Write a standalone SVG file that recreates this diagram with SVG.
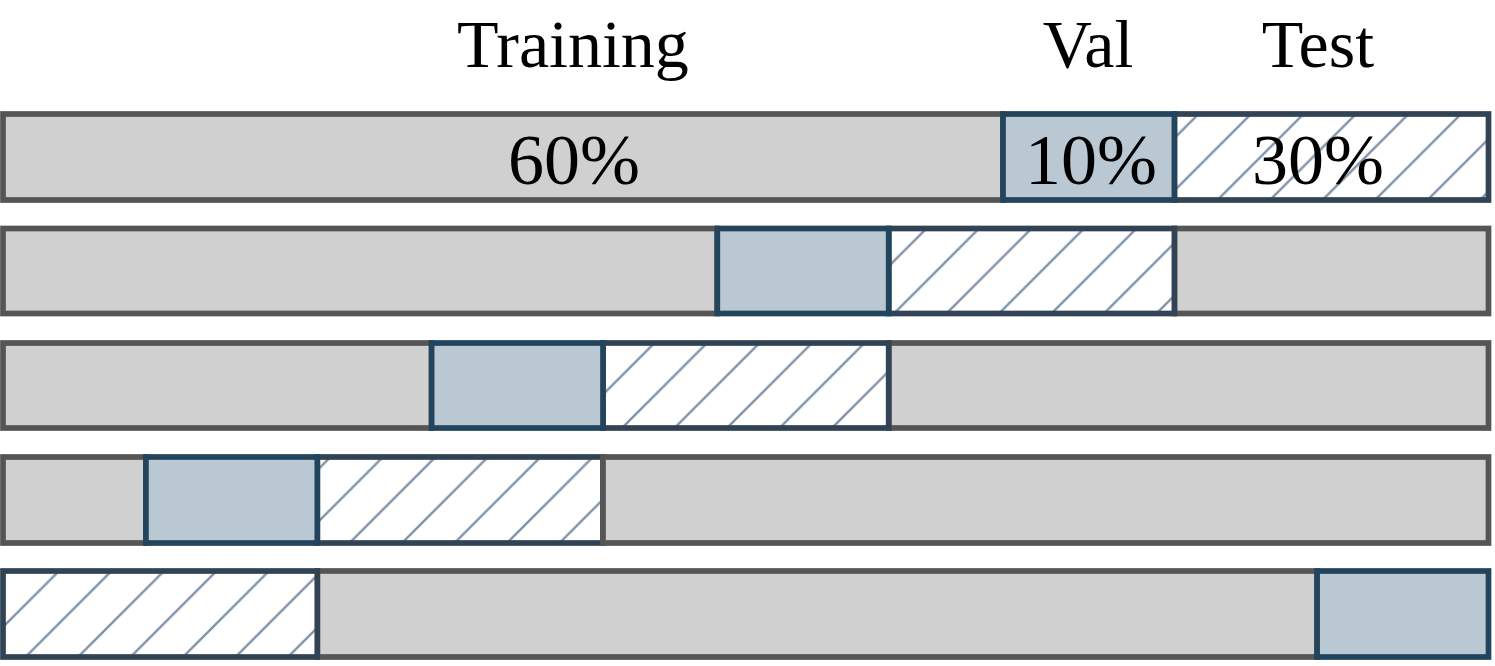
<svg xmlns="http://www.w3.org/2000/svg" width="1495" height="666" viewBox="0 0 1495 666">
<defs>
<pattern id="hatch" patternUnits="userSpaceOnUse" x="0" y="0" width="52.5" height="52.5">
<path d="M-2,54.5 L54.5,-2 M-2,2 L2,-2 M50.5,54.5 L54.5,50.5" stroke="#8093a7" stroke-width="2.4" fill="none"/>
</pattern>
<style>
.tr{fill:#d0d0d0;stroke:#555555;stroke-width:5.7}
.va{fill:#bac8d3;stroke:#23445d;stroke-width:5.7}
.te{fill:url(#hatch);stroke:#314354;stroke-width:5.7}
.bg{fill:#ffffff;stroke:none}
text{font-family:"Liberation Serif","Times New Roman",serif;fill:#000;text-anchor:middle}
.h{font-size:68px}
.p{font-size:72px}
</style>
</defs>
<rect width="1495" height="666" fill="#ffffff"/>
<g id="headers">
<text class="h" x="573" y="67" font-family="Liberation Serif, serif">Training</text>
<text class="h" x="1088" y="67" font-family="Liberation Serif, serif">Val</text>
<text class="h" x="1318" y="67" font-family="Liberation Serif, serif">Test</text>
</g>
<g id="row1">
<rect class="tr" x="3" y="114" width="1000" height="86"/>
<rect class="bg" x="1174.4" y="114" width="314.1" height="86"/>
<rect class="te" x="1174.4" y="114" width="314.1" height="86"/>
<rect class="va" x="1003" y="114" width="171.4" height="86"/>
<text class="p" x="574" y="184" font-family="Liberation Serif, serif">60%</text>
<text class="p" x="1091" y="184" font-family="Liberation Serif, serif">10%</text>
<text class="p" x="1318" y="184" font-family="Liberation Serif, serif">30%</text>
</g>
<g id="row2">
<rect class="tr" x="3" y="228.5" width="714.3" height="85"/>
<rect class="tr" x="1174.4" y="228.5" width="314.1" height="85"/>
<rect class="bg" x="888.7" y="228.5" width="285.7" height="85"/>
<rect class="te" x="888.7" y="228.5" width="285.7" height="85"/>
<rect class="va" x="717.3" y="228.5" width="171.4" height="85"/>
</g>
<g id="row3">
<rect class="tr" x="3" y="343" width="428.6" height="85"/>
<rect class="tr" x="888.7" y="343" width="599.8" height="85"/>
<rect class="bg" x="603" y="343" width="285.7" height="85"/>
<rect class="te" x="603" y="343" width="285.7" height="85"/>
<rect class="va" x="431.6" y="343" width="171.4" height="85"/>
</g>
<g id="row4">
<rect class="tr" x="3" y="457" width="142.9" height="86"/>
<rect class="bg" x="317.3" y="457" width="285.7" height="86"/>
<rect class="te" x="317.3" y="457" width="285.7" height="86"/>
<rect class="tr" x="603" y="457" width="885.5" height="86"/>
<rect class="va" x="145.9" y="457" width="171.4" height="86"/>
</g>
<g id="row5">
<rect class="tr" x="317.3" y="571" width="999.8" height="86"/>
<rect class="bg" x="3" y="571" width="314.3" height="86"/>
<rect class="te" x="3" y="571" width="314.3" height="86"/>
<rect class="va" x="1317.1" y="571" width="171.4" height="86"/>
</g>
<g id="connectors"></g>
</svg>
